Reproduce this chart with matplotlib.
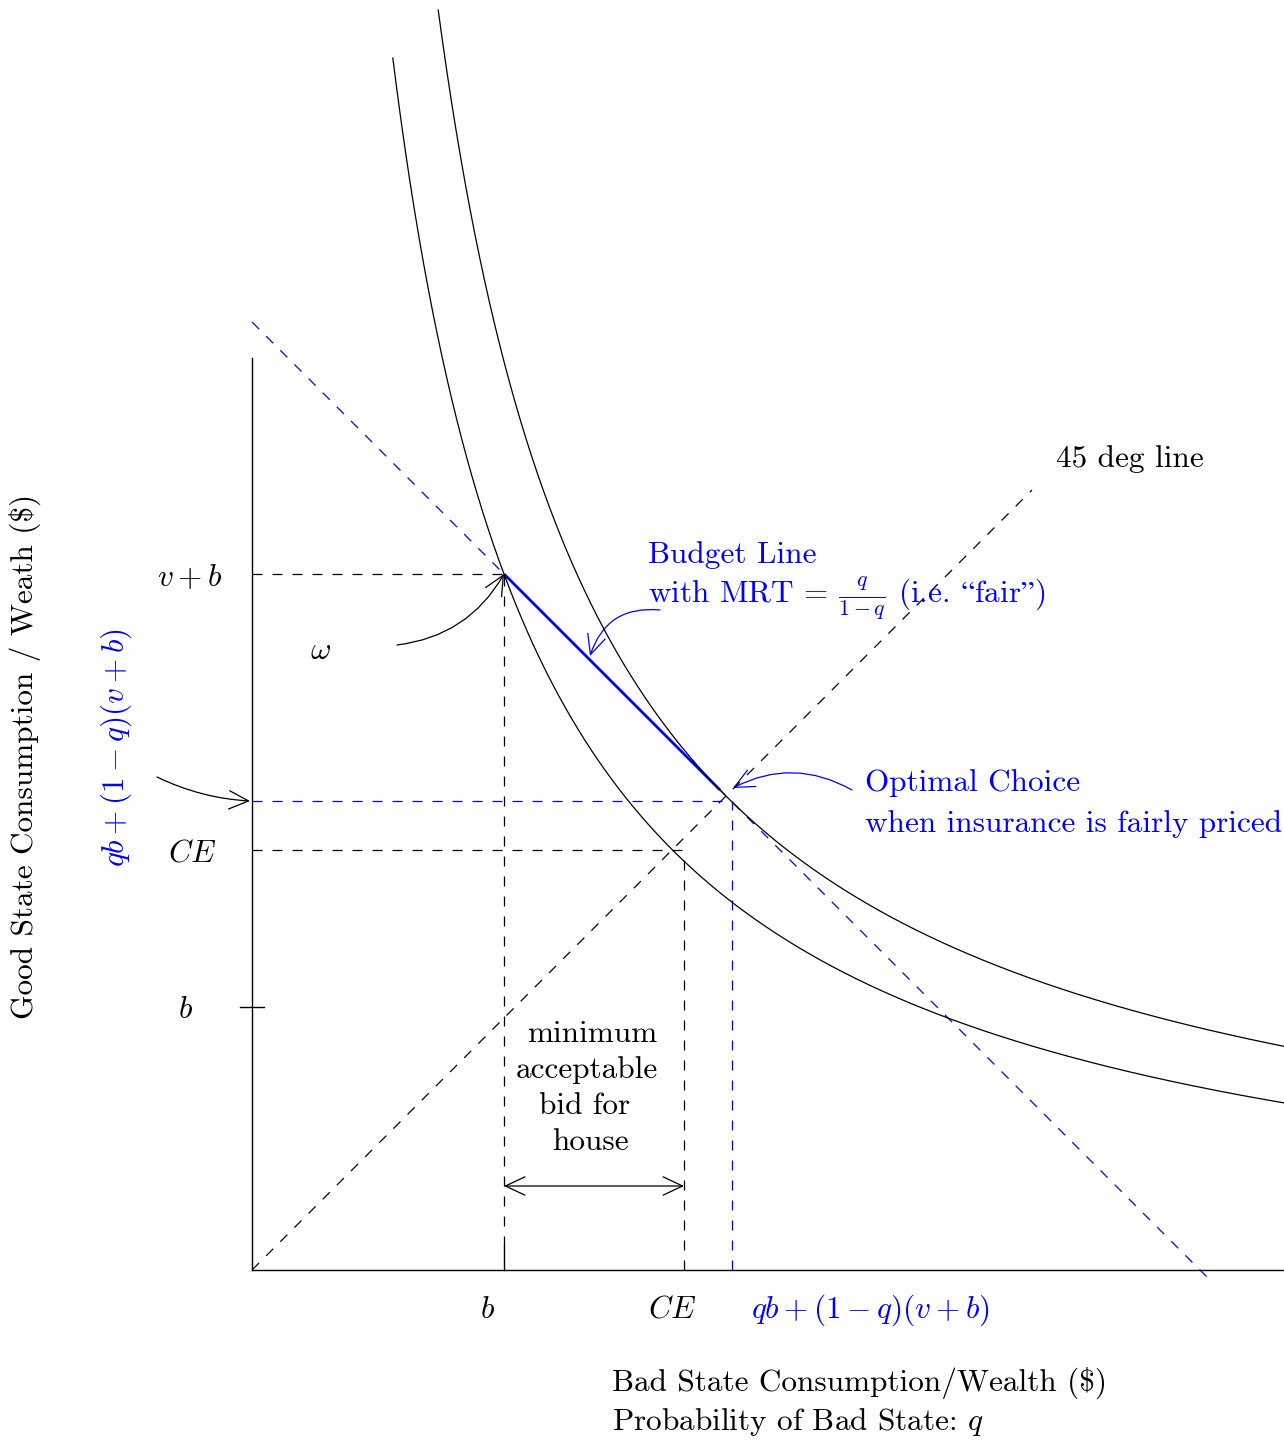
import numpy as np
import matplotlib
matplotlib.use("Agg")
import matplotlib.pyplot as plt
from matplotlib.patches import FancyArrowPatch

plt.rcParams['font.family'] = ['cmr10', 'DejaVu Serif']
plt.rcParams['mathtext.fontset'] = 'cm'
plt.rcParams['axes.formatter.use_mathtext'] = True
plt.rcParams['lines.scale_dashes'] = False

# ---- key values of the diagram (axis units) ----
x_marks = [2.52, 4.32, 4.80]            # b, CE, qb+(1-q)(v+b)
x_labels = [r"$b$", r"$CE$", r"$qb+(1-q)(v+b)$"]
y_marks = [2.63, 4.20, 4.69, 6.96]      # b, CE, qb+(1-q)(v+b), v+b
y_labels = [r"$b$", r"$CE$", r"$qb+(1-q)(v+b)$", r"$v+b$"]
omega = [2.52, 6.96]                    # endowment
optimum = [4.80, 4.69]                  # optimal choice (fair insurance)
certainty_eq = [4.32, 4.20]             # CE point
budget_total = 9.48                     # x + y = const (slope -1)
budget_dash_x = [0.0, 9.58]
budget_solid_x = [2.52, 4.68]
diag_end = 7.80                         # end of 45 deg line
y_axis_top = 9.12
x_axis_right = 10.32
# indifference curves: (x - c)(y - c) = k
ic_c = [-0.116, 0.20]
ic_k = [18.65, 20.61]
ic_top_y = [12.12, 12.60]
bid_arrow_y = 0.84
bid_lines = ["minimum", "acceptable", "bid for", "house"]

BLUE = '#0000ff'
FS = 22.5
DASH = (0, (7.2, 7.2))

fig = plt.figure(figsize=(12.84, 14.41), dpi=100)
ax = fig.add_axes([0, 0, 1, 1])
ax.set_xlim(-2.52, 10.32)
ax.set_ylim(-1.71, 12.70)
ax.axis('off')

# axes
ax.plot([0, 0], [0, y_axis_top], color='black', lw=1.0)
ax.plot([0, x_axis_right], [0, 0], color='black', lw=1.0)
# ticks
ax.plot([-0.12, 0.12], [y_marks[0], y_marks[0]], color='black', lw=1.0)
ax.plot([x_marks[0], x_marks[0]], [0, 0.24], color='black', lw=1.0)

# 45 degree line
ax.plot([0, diag_end], [0, diag_end], color='black', lw=0.9, ls=DASH)

# endowment guides
ax.plot([0, omega[0]], [omega[1], omega[1]], color='black', lw=0.9, ls=DASH)
ax.plot([omega[0], omega[0]], [0.24, omega[1]], color='black', lw=0.9, ls=DASH)
# CE guides
ax.plot([0, certainty_eq[0]], [certainty_eq[1], certainty_eq[1]], color='black', lw=0.9, ls=DASH)
ax.plot([certainty_eq[0], certainty_eq[0]], [0, certainty_eq[1]], color='black', lw=0.9, ls=DASH)

# budget line
bx = np.array(budget_dash_x)
ax.plot(bx, budget_total - bx, color=BLUE, lw=0.9, ls=DASH)
sx = np.array(budget_solid_x)
ax.plot(sx, budget_total - sx, color=BLUE, lw=2.0, solid_capstyle='butt')
# optimum guides
ax.plot([0, optimum[0]], [optimum[1], optimum[1]], color=BLUE, lw=0.9, ls=DASH)
ax.plot([optimum[0], optimum[0]], [0, optimum[1]], color=BLUE, lw=0.9, ls=DASH)

# indifference curves
for c, k, ytop in zip(ic_c, ic_k, ic_top_y):
    x0 = c + k / (ytop - c)
    xs = np.geomspace(x0 - c, x_axis_right - c, 3000) + c
    ys = c + k / (xs - c)
    ax.plot(xs, ys, color='black', lw=0.9)

def arrow(p0, p1, rad, color='black', style='->'):
    a = FancyArrowPatch(p0, p1, connectionstyle=f'arc3,rad={rad}',
                        arrowstyle=f'{style},head_length=0.7,head_width=0.33',
                        mutation_scale=20, lw=0.9, color=color,
                        shrinkA=0, shrinkB=0)
    ax.add_patch(a)

arrow((1.45, 6.25), tuple(omega), 0.25)
arrow((-0.95, 4.93), (-0.02, optimum[1]), 0.1)
arrow((4.08, 6.60), (3.38, 6.14), 0.4, color=BLUE)
arrow((6.00, 4.80), (4.81, 4.82), 0.27, color=BLUE)
arrow((x_marks[0], bid_arrow_y), (x_marks[1], bid_arrow_y), 0.0, style='<->')

# labels on axes
x_lab_pos = [(2.35, 'black'), (4.20, 'black'), (6.18, BLUE)]
for lab, (xp, col) in zip(x_labels, x_lab_pos):
    ax.text(xp, -0.48, lab, ha='center', va='baseline', fontsize=FS, color=col)
ax.text(-0.66, y_marks[0] - 0.115, y_labels[0], ha='center', va='baseline', fontsize=FS)
ax.text(-0.60, y_marks[1] - 0.12, y_labels[1], ha='center', va='baseline', fontsize=FS)
ax.text(-0.62, y_marks[3] - 0.12, y_labels[3], ha='center', va='baseline', fontsize=FS)
ax.text(-1.36, 5.22, y_labels[2], ha='center', va='center', rotation=90,
        fontsize=FS, color=BLUE)
ax.text(-2.27, 5.14, r"Good State Consumption / Weath (\$)", ha='center',
        va='center', rotation=90, fontsize=FS)
ax.text(3.60, -1.21, r"Bad State Consumption/Wealth (\$)", ha='left',
        va='baseline', fontsize=FS)
ax.text(3.60, -1.60, r"Probability of Bad State: $q$", ha='left',
        va='baseline', fontsize=FS)

# annotations
ax.text(0.68, 6.11, r"$\omega$", ha='center', va='baseline', fontsize=FS)
ax.text(8.04, 8.03, "45 deg line", ha='left', va='baseline', fontsize=FS)
ax.text(3.96, 7.07, "Budget Line", ha='left', va='baseline', fontsize=FS, color=BLUE)
ax.text(3.96, 6.67, r"with MRT = $\frac{q}{1-q}$ (i.e. $\mathrm{“}$fair$\mathrm{”}$)",
        ha='left', va='baseline', fontsize=FS, color=BLUE)
ax.text(6.13, 4.79, "Optimal Choice", ha='left', va='baseline', fontsize=FS, color=BLUE)
ax.text(6.13, 4.38, "when insurance is fairly priced", ha='left', va='baseline',
        fontsize=FS, color=BLUE)
for i, (line, xc) in enumerate(zip(bid_lines, [3.40, 3.35, 3.33, 3.38])):
    ax.text(xc, 2.28 - 0.36 * i, line, ha='center', va='baseline', fontsize=FS)

fig.savefig("out.png", dpi=100)
